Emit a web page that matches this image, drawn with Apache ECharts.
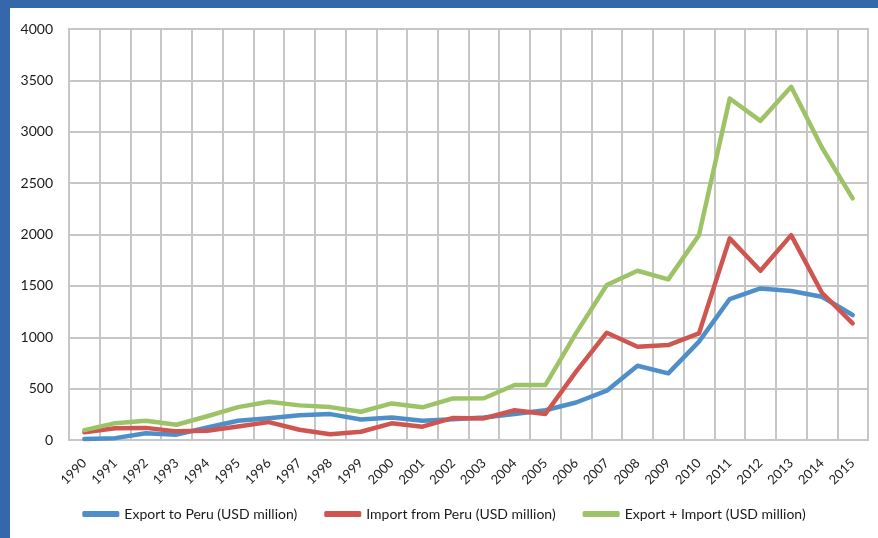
<!DOCTYPE html>
<html>
<head>
<meta charset="utf-8">
<script src="https://cdn.jsdelivr.net/npm/echarts@6/dist/echarts.min.js"></script>
<style>
html, body {
  margin: 0;
  padding: 0;
  width: 878px;
  height: 538px;
  background: #3468aa;
  overflow: hidden;
}
#tradeChart {
  position: absolute;
  left: 10px;
  top: 8px;
  width: 868px;
  height: 530px;
  background: #fff;
}
</style>
</head>
<body>
<div id="tradeChart"></div>
<script>
// years on the x axis
const years = ['1990', '1991', '1992', '1993', '1994', '1995', '1996', '1997', '1998', '1999',
  '2000', '2001', '2002', '2003', '2004', '2005', '2006', '2007', '2008', '2009',
  '2010', '2011', '2012', '2013', '2014', '2015']
const exportToPeru = [10, 18, 65, 52, 122, 188, 212, 240, 252, 200,
  220, 188, 202, 218, 252, 290, 365, 480, 723, 649,
  957, 1372, 1475, 1450, 1394, 1216]
const importFromPeru = [75, 115, 118, 84, 90, 132, 174, 100, 55, 80,
  162, 130, 215, 210, 290, 253, 665, 1044, 908, 924,
  1038, 1962, 1647, 1994, 1433, 1135]
const exportPlusImport = [96, 164, 188, 148, 231, 320, 372, 337, 320, 275,
  356, 318, 405, 406, 535, 535, 1040, 1508, 1647, 1563,
  1994, 3324, 3106, 3437, 2847, 2351]
const yTicks = [0, 500, 1000, 1500, 2000, 2500, 3000, 3500, 4000]

const seriesNames = [
  'Export to Peru (USD million)',
  'Import from Peru (USD million)',
  'Export + Import (USD million)',
]
const seriesColors = ['#4f8fc9', '#cf5650', '#9dc366']
const seriesData = [exportToPeru, importFromPeru, exportPlusImport]

let chartDom = echarts.init(document.getElementById('tradeChart'))

const gridColor = '#c6c6c6'

let option = {
  animation: false,
  textStyle: { fontFamily: 'Lato, "Open Sans", sans-serif' },
  grid: {
    left: 59,
    top: 21,
    right: 10,
    bottom: 98,
    show: true,
    borderColor: gridColor,
    borderWidth: 2,
  },
  legend: {
    bottom: 12,
    left: 'center',
    icon: 'roundRect',
    itemWidth: 37,
    itemHeight: 6,
    itemGap: 27,
    data: seriesNames,
    textStyle: { fontSize: 14, color: '#1a1a1a' },
  },
  xAxis: {
    type: 'category',
    data: years,
    boundaryGap: true,
    axisLine: { show: true, lineStyle: { color: gridColor, width: 2 } },
    axisTick: { show: false },
    splitLine: { show: true, lineStyle: { color: gridColor, width: 2 } },
    axisLabel: {
      rotate: 45,
      interval: 0,
      margin: 21,
      fontSize: 13,
      color: '#222',
    },
  },
  yAxis: {
    type: 'value',
    min: yTicks[0],
    max: yTicks[yTicks.length - 1],
    interval: yTicks[1] - yTicks[0],
    axisLine: { show: false },
    axisTick: { show: false },
    splitLine: { show: true, lineStyle: { color: gridColor, width: 2 } },
    axisLabel: {
      margin: 16,
      fontSize: 14,
      color: '#1a1a1a',
      formatter: (v) => String(v),
    },
  },
  series: seriesNames.map((name, i) => ({
    name: name,
    type: 'line',
    data: seriesData[i],
    color: seriesColors[i],
    showSymbol: false,
    lineStyle: { width: 4.5, cap: 'round', join: 'round' },
  })),
}

chartDom.setOption(option)
</script>
</body>
</html>
